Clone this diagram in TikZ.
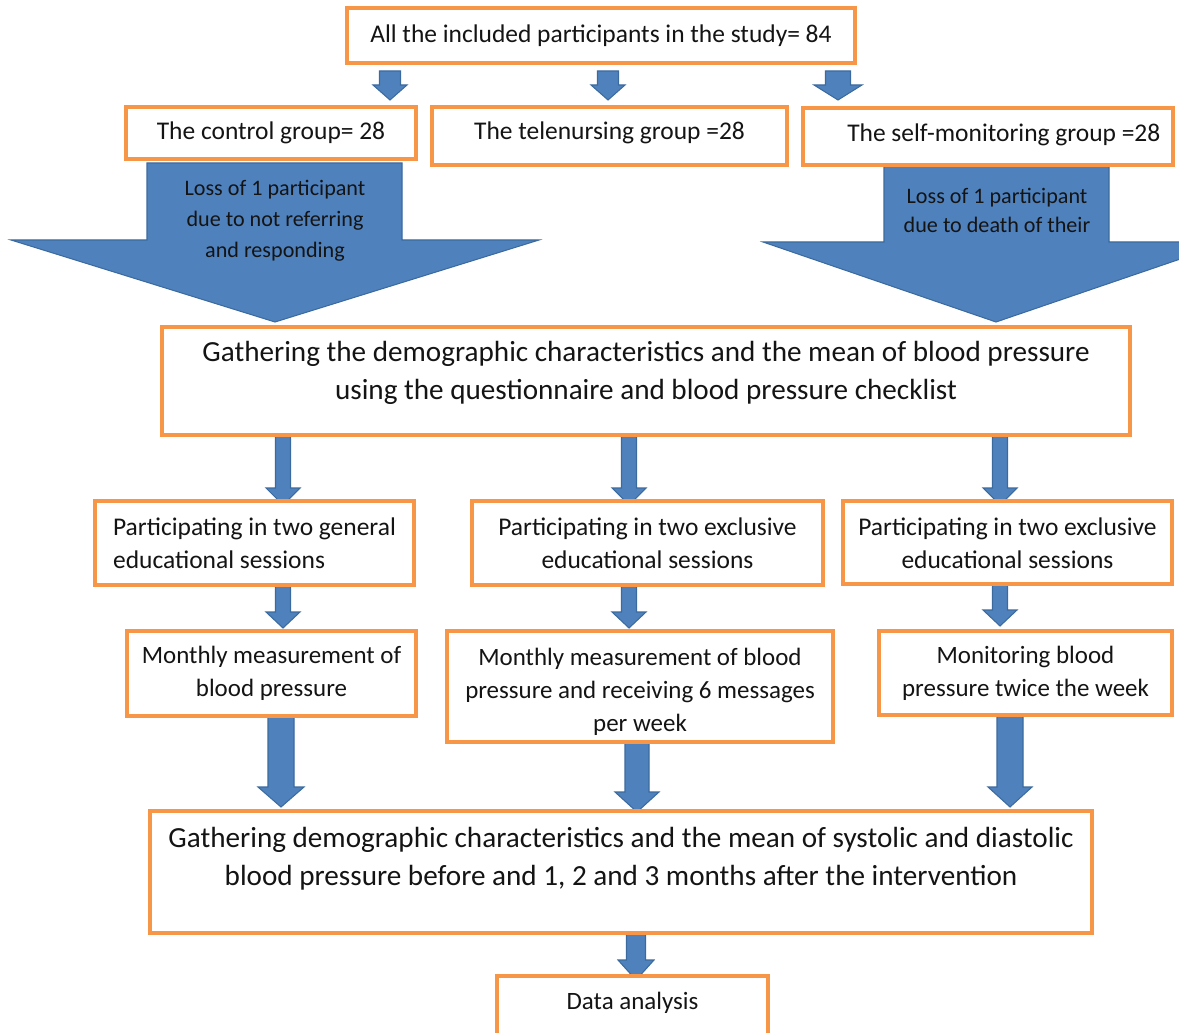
\documentclass[tikz,border=0pt]{standalone}
\usepackage{fontspec}
\setmainfont{Carlito}
\definecolor{boxorange}{HTML}{F79646}
\definecolor{arrowblue}{HTML}{4F81BD}
\definecolor{arrowedge}{HTML}{3B6A9E}
\definecolor{txtcol}{HTML}{141414}
\newcommand\tb[3][0pt]{\raisebox{\dimexpr #1-0.25em\relax}[0pt][0pt]{\begin{tabular}{@{}#2@{}}#3\end{tabular}}}
\newcommand\fs[2]{\fontsize{#1}{#2}\selectfont}
\newcommand\boxnode[6]{\node[box,minimum width={(#4-#2)*0.02cm},minimum height={(#5-#3)*0.02cm}] (#1) at ({(#2+#4)/2},{(#3+#5)/2}) {#6};}
% x, top, head base, tip, shaft half width, head half width
\newcommand\barrow[6]{\filldraw[blockarrow] (#1-#5,#2) -- (#1+#5,#2) -- (#1+#5,#3) -- (#1+#6,#3) -- (#1,#4) -- (#1-#6,#3) -- (#1-#5,#3) -- cycle;}
\begin{document}
\begin{tikzpicture}[x=0.02cm,y=-0.02cm,
  box/.style={draw=boxorange,line width=2pt,fill=white,inner sep=0pt,text=txtcol},
  blockarrow/.style={fill=arrowblue,draw=arrowedge,line width=0.6pt,line join=miter},
  arrowtext/.style={text=txtcol,inner sep=0pt}]
\useasboundingbox (0,0) rectangle (1179,1033);
\clip (0,0) rectangle (1179,1033);
\fill[white] (0,0) rectangle (1179,1033);

% small arrows from the top box
\barrow{390}{71}{85}{100}{10.5}{17}
\barrow{608}{71}{85}{100}{10.5}{17}
\barrow{838}{71}{85}{100}{12.5}{24}

% big arrows with loss notes
\filldraw[blockarrow] (147,163) -- (402,163) -- (402,240) -- (539,240) -- (275,322) -- (11,240) -- (147,240) -- cycle;
\filldraw[blockarrow] (884,163) -- (1109,163) -- (1109,242) -- (1230,242) -- (996,322) -- (763,242) -- (884,242) -- cycle;
\node[arrowtext] (loss1) at (275,220) {\fs{12.6}{17.6}\tb{c}{Loss of 1 participant\\due to not referring\\and responding}};
\node[arrowtext] (loss2) at (997,211.5) {\fs{12.6}{16.5}\tb{c}{Loss of 1 participant\\due to death of their}};

% arrows gathering -> sessions
\barrow{283}{435}{488}{505}{7.5}{17}
\barrow{629}{435}{488}{505}{7.5}{17}
\barrow{1000}{435}{488}{505}{7.5}{17}
% arrows sessions -> measurement
\barrow{283}{585}{612}{628}{7.5}{17}
\barrow{629}{585}{612}{628}{7.5}{17}
\barrow{1000}{584}{610}{626}{7.5}{17}
% arrows measurement -> final gathering
\barrow{281}{716}{787}{807}{13}{23}
\barrow{637}{742}{792}{812}{12}{22}
\barrow{1010}{715}{787}{807}{13}{22}
% arrow final gathering -> data analysis
\barrow{636}{933}{960}{980}{9.5}{18}

% boxes
\boxnode{all}{347}{8}{855}{63}{\fs{14.5}{17}\tb[-0.5pt]{c}{All the included participants in the study= 84}}
\boxnode{control}{126}{107}{416}{159}{\fs{14.5}{17}\tb{c}{The control group= 28}}
\boxnode{tele}{432}{107}{787}{165}{\fs{14.5}{17}\tb[1.5pt]{c}{The telenursing group =28}}
\boxnode{self}{803}{108}{1173}{165}{\fs{14.5}{17}\hspace*{18pt}\tb[0.8pt]{c}{The self-monitoring group =28}}

\boxnode{gather}{162}{327}{1130}{435}{\fs{16.6}{21.6}\tb[4.6pt]{c}{Gathering the demographic characteristics and the mean of blood pressure\\using the questionnaire and blood pressure checklist}}

\boxnode{sessA}{95}{501}{414}{585}{\fs{14.5}{18.8}\tb[-1.4pt]{l}{Participating in two general\\educational sessions}}
\boxnode{sessB}{472}{501}{823}{585}{\fs{14.5}{18.8}\tb[-1.4pt]{c}{Participating in two exclusive\\educational sessions}}
\boxnode{sessC}{843}{501}{1172}{584}{\fs{14.5}{18.8}\tb[-1.4pt]{c}{Participating in two exclusive\\educational sessions}}

\boxnode{measA}{127}{631}{416}{716}{\fs{14.2}{18.5}\tb{c}{Monthly measurement of\\blood pressure}}
\boxnode{measB}{447}{631}{833}{742}{\fs{14.2}{18.8}\tb[-3pt]{c}{Monthly measurement of blood\\pressure and receiving 6 messages\\per week}}
\boxnode{measC}{879}{631}{1172}{715}{\fs{14.2}{18.8}\tb{c}{Monitoring blood\\pressure twice the week}}

\boxnode{final}{150}{811}{1092}{933}{\fs{16.6}{21.6}\tb[7.4pt]{c}{Gathering demographic characteristics and the mean of systolic and diastolic\\blood pressure before and 1, 2 and 3 months after the intervention}}

\boxnode{data}{497}{976}{768}{1040}{\fs{14.2}{16}\tb[2.4pt]{c}{Data analysis}}
\end{tikzpicture}
\end{document}
